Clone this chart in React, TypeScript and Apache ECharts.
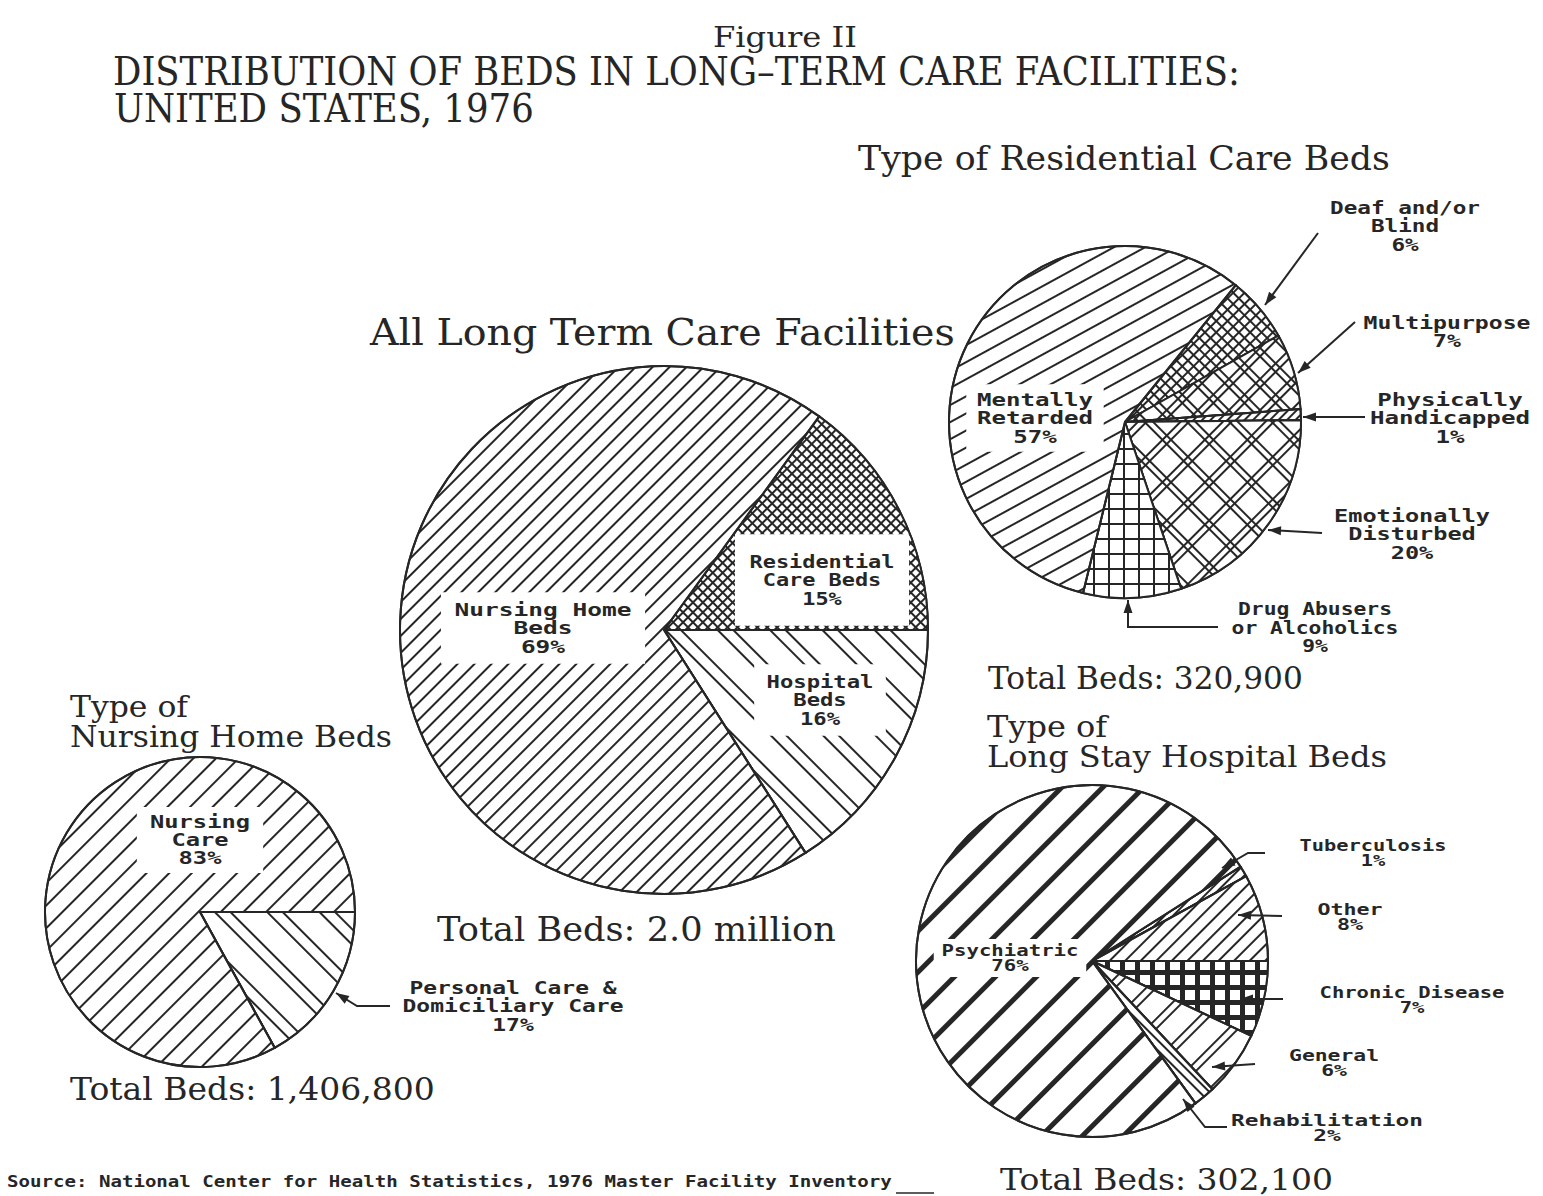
import React, { useEffect, useRef } from 'react';
import * as echarts from 'echarts';

// ---------- data ----------
const mainCats = ['Residential Care Beds', 'Hospital Beds', 'Nursing Home Beds'];
const mainVals = [15, 16, 69];
const resCats = ['Deaf and/or Blind', 'Multipurpose', 'Physically Handicapped', 'Emotionally Disturbed', 'Drug Abusers or Alcoholics', 'Mentally Retarded'];
const resVals = [6, 7, 1, 20, 9, 57];
const nhCats = ['Personal Care & Domiciliary Care', 'Nursing Care'];
const nhVals = [17, 83];
const hospCats = ['Tuberculosis', 'Other', 'Chronic Disease', 'General', 'Rehabilitation', 'Psychiatric'];
const hospVals = [1, 8, 7, 6, 2, 76];
const totals = ['Total Beds: 2.0 million', 'Total Beds: 320,900', 'Total Beds: 1,406,800', 'Total Beds: 302,100'];

const INK = '#262626';
const SERIF = '"DejaVu Serif"';
const MONO = '"DejaVu Sans Mono"';
const P4 = Math.PI / 4;

// ---------- decal helpers ----------
const lines = (w: number, gap: number, rot: number) => ({
  fill: '#fff',
  decal: { symbol: 'rect', symbolSize: 1, symbolKeepAspect: false, color: INK, backgroundColor: '#fff', dashArrayX: [1, 0], dashArrayY: [w, gap], rotation: rot },
});
const pairs = (w: number, g1: number, g2: number, rot: number) => ({
  fill: '#fff',
  decal: { symbol: 'rect', symbolSize: 1, symbolKeepAspect: false, color: INK, backgroundColor: '#fff', dashArrayX: [1, 0], dashArrayY: [w, g1, w, g2], rotation: rot },
});
const grid = (cell: number, line: number, rot: number) => ({
  fill: INK,
  decal: { symbol: 'rect', symbolSize: 1, symbolKeepAspect: false, color: '#fff', backgroundColor: INK, dashArrayX: [cell, line], dashArrayY: [cell, line], rotation: rot },
});
const plaid = (a: number, line: number, b: number, rot: number) => ({
  fill: INK,
  decal: { symbol: 'rect', symbolSize: 1, symbolKeepAspect: false, color: '#fff', backgroundColor: INK, dashArrayX: [a, line, b, line], dashArrayY: [a, line, b, line], rotation: rot },
});

const mainDecals = [grid(5, 2, P4), pairs(2, 9, 24, P4), lines(2, 10, -P4)];
const resDecals = [grid(6, 2, P4), plaid(14, 2, 4, P4), lines(2, 4, -P4), plaid(22, 2, 4, P4), grid(13, 2, 0), lines(2, 13, -0.5)];
const nhDecals = [pairs(2, 9, 24, P4), lines(2, 14, -P4)];
const hospDecals = [pairs(2, 4, 6, -P4), lines(2, 9, -P4), grid(10, 5, 0), pairs(2, 5, 20, -P4), pairs(2, 5, 12, P4), lines(5, 24, -P4)];

function pieSeries(name: string, cats: string[], vals: number[], decals: any[], center: number[], r: number, startAngle: number) {
  return {
    type: 'pie', name, center, radius: [0, r], startAngle, clockwise: true, silent: true,
    label: { show: false }, labelLine: { show: false }, emphasis: { disabled: true },
    itemStyle: { color: '#fff', borderColor: INK, borderWidth: 2 },
    data: cats.map((c, i) => ({ name: c, value: vals[i], itemStyle: { color: decals[i].fill, decal: decals[i].decal } })),
  };
}

let mctx: CanvasRenderingContext2D | null = null;
function fit(text: string, font: string, target: number) {
  if (!mctx) mctx = document.createElement('canvas').getContext('2d');
  if (!mctx) return 1;
  mctx.font = font;
  const w = Math.max(...text.split('\n').map((l) => mctx!.measureText(l).width));
  return w > 0 ? target / w : 1;
}

function serif(text: string, x: number, y: number, size: number, width: number, lh = size * 0.95) {
  const font = `${size}px ${SERIF}`;
  return {
    type: 'text', x, y, z: 20, scaleX: fit(text, font, width),
    style: { text, fontSize: size, fontFamily: SERIF, fill: INK, align: 'left', verticalAlign: 'middle', lineHeight: lh },
  };
}
function lab(text: string, x: number, y: number, size: number, width: number, lh: number, bg?: string, pad?: number[]) {
  const font = `bold ${size}px ${MONO}`;
  const st: any = { text, fontSize: size, fontFamily: MONO, fontWeight: 'bold', fill: INK, align: 'center', verticalAlign: 'middle', lineHeight: lh };
  if (bg) { st.backgroundColor = bg; st.padding = pad; }
  return { type: 'text', x, y, z: 20, scaleX: fit(text, font, width), style: st };
}
function arrow(pts: number[][]) {
  const n = pts.length;
  const [x1, y1] = pts[n - 2];
  const [x2, y2] = pts[n - 1];
  const a = Math.atan2(y2 - y1, x2 - x1);
  const L = 13, H = 4.5;
  const bx = x2 - L * Math.cos(a), by = y2 - L * Math.sin(a);
  const head = [[x2, y2], [bx + H * Math.sin(a), by - H * Math.cos(a)], [bx - H * Math.sin(a), by + H * Math.cos(a)]];
  return [
    { type: 'polyline', z: 20, shape: { points: pts }, style: { stroke: INK, lineWidth: 2, fill: null } },
    { type: 'polygon', z: 20, shape: { points: head }, style: { fill: INK } },
  ];
}

export default function App() {
  const ref = useRef<HTMLDivElement>(null);
  useEffect(() => {
    document.body.style.margin = '0';
    document.body.style.overflow = 'hidden';
    if (!ref.current) return;
    const chart = echarts.init(ref.current, null, { renderer: 'svg' });
    const graphic: any[] = [
      { type: 'text', x: 785, y: 37, z: 20, scaleX: fit('Figure II', `27px ${SERIF}`, 144), style: { text: 'Figure II', fontSize: 27, fontFamily: SERIF, fill: INK, align: 'center', verticalAlign: 'middle' } },
      serif('DISTRIBUTION OF BEDS IN LONG\u2013TERM CARE FACILITIES:', 113, 71, 40, 1127),
      serif('UNITED STATES, 1976', 114, 108, 40, 420),
      serif('Type of Residential Care Beds', 858, 159, 33, 532),
      serif('All Long Term Care Facilities', 370, 332, 37, 585),
      serif(totals[0], 437, 929, 33, 399),
      serif(totals[1], 988, 678, 31, 315),
      serif('Type of\nLong Stay Hospital Beds', 987, 741, 30, 400, 30),
      serif(totals[3], 1000, 1180, 29, 333),
      serif('Type of\nNursing Home Beds', 70, 721, 30, 322, 30),
      serif(totals[2], 70, 1089, 31, 365),
      {
        type: 'text', x: 7, y: 1182, z: 20, scaleX: fit('Source: National Center for Health Statistics, 1976 Master Facility Inventory', `bold 15px ${MONO}`, 886),
        style: { text: 'Source: National Center for Health Statistics, 1976 Master Facility Inventory', fontSize: 15, fontFamily: MONO, fontWeight: 'bold', fill: INK, align: 'left', verticalAlign: 'middle' },
      },
      { type: 'line', z: 20, shape: { x1: 896, y1: 1193, x2: 934, y2: 1193 }, style: { stroke: INK, lineWidth: 1.5 } },
      // main pie labels
      lab('Nursing Home\nBeds\n69%', 543, 628, 18, 177, 18.5, '#fff', [8, 10, 8, 10]),
      lab('Residential\nCare Beds\n15%', 822, 580, 18, 145, 18.5, '#fff', [16, 12, 20, 12]),
      lab('Hospital\nBeds\n16%', 820, 700, 18, 107, 18.5, '#fff', [8, 10, 8, 10]),
      // residential pie labels
      lab('Mentally\nRetarded\n57%', 1035, 418, 18, 116, 18.5, '#fff', [6, 8, 6, 8]),
      lab('Deaf and/or\nBlind\n6%', 1405, 226, 18, 150, 18.5),
      lab('Multipurpose\n7%', 1447, 332, 18, 167, 18.5),
      lab('Physically\nHandicapped\n1%', 1450, 418, 18, 160, 18.5),
      lab('Emotionally\nDisturbed\n20%', 1412, 534, 18, 156, 18.5),
      lab('Drug Abusers\nor Alcoholics\n9%', 1315, 628, 18, 167, 18.5),
      // nursing home labels
      lab('Nursing\nCare\n83%', 200, 840, 18, 100, 18, '#fff', [6, 10, 6, 10]),
      lab('Personal Care &\nDomiciliary Care\n17%', 513, 1006, 18, 221, 18.5),
      // hospital labels
      lab('Psychiatric\n76%', 1010, 958, 16, 137, 15, '#fff', [4, 6, 4, 6]),
      lab('Tuberculosis\n1%', 1373, 853, 16, 147, 15),
      lab('Other\n8%', 1350, 917, 16, 65, 15),
      lab('Chronic Disease\n7%', 1412, 1000, 16, 185, 15),
      lab('General\n6%', 1334, 1063, 16, 90, 15),
      lab('Rehabilitation\n2%', 1327, 1128, 16, 192, 15),
      ...arrow([[1318, 233], [1265, 305]]),
      ...arrow([[1355, 322], [1298, 373]]),
      ...arrow([[1365, 417], [1303, 417]]),
      ...arrow([[1322, 533], [1268, 530]]),
      ...arrow([[1218, 627], [1128, 627], [1128, 600]]),
      ...arrow([[390, 1006], [357, 1006], [336, 993]]),
      ...arrow([[1265, 853], [1248, 853], [1222, 868]]),
      ...arrow([[1282, 916], [1238, 915]]),
      ...arrow([[1283, 999], [1240, 999]]),
      ...arrow([[1255, 1064], [1212, 1067]]),
      ...arrow([[1227, 1127], [1205, 1127], [1183, 1099]]),
    ];
    chart.setOption({
      animation: false,
      backgroundColor: '#fff',
      series: [
        pieSeries('All Long Term Care Facilities', mainCats, mainVals, mainDecals, [664, 630], 264, mainVals[0] * 3.6),
        pieSeries('Type of Residential Care Beds', resCats, resVals, resDecals, [1125, 422], 176, 51),
        pieSeries('Type of Nursing Home Beds', nhCats, nhVals, nhDecals, [200, 912], 155, 0),
        pieSeries('Type of Long Stay Hospital Beds', hospCats, hospVals, hospDecals, [1092, 961], 176, (hospVals[0] + hospVals[1]) * 3.6),
      ],
      graphic,
    });
    return () => chart.dispose();
  }, []);
  return <div ref={ref} style={{ width: 1543, height: 1196 }} />;
}
